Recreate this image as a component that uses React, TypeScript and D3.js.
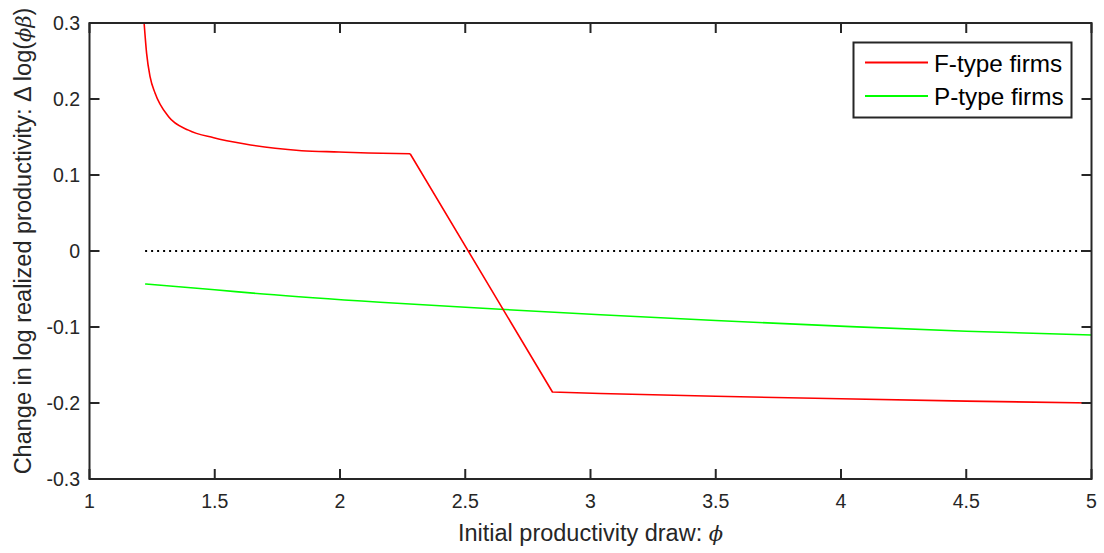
import React from 'react'
import * as d3 from 'd3'

// F-type firms (red): smooth part up to the kink, then straight pieces
const fPhi = [1.218, 1.228, 1.242, 1.262, 1.315, 1.395, 1.496, 1.621, 1.741, 1.847, 1.996, 2.113, 2.28, 2.848, 3.04, 3.5, 4.0, 4.5, 5.0]
const fChange = [0.300, 0.260, 0.229, 0.2075, 0.177, 0.159, 0.149, 0.1408, 0.1351, 0.132, 0.1303, 0.129, 0.128, -0.1855, -0.1875, -0.1912, -0.1945, -0.1975, -0.2]
const fKink = 12 // index where the smooth part ends

// P-type firms (green)
const pPhi = [1.222, 1.5, 1.694, 2.16, 2.64, 3.04, 3.5, 4.04, 4.5, 5.0]
const pChange = [-0.0434, -0.051, -0.0566, -0.0675, -0.0767, -0.0838, -0.0915, -0.0995, -0.1055, -0.1105]

const zeroLine = [1.222, 5.0]

const xTicks = [1, 1.5, 2, 2.5, 3, 3.5, 4, 4.5, 5]
const yTicks = [0.3, 0.2, 0.1, 0, -0.1, -0.2, -0.3]

const legendNames = ['F-type firms', 'P-type firms']
const legendColors = ['#ff0000', '#00ff00']

const W = 1104
const H = 553
const left = 89.5, right = 1091.5, top = 23, bottom = 479
const axisColor = '#262626'
const font = 'Liberation Sans, Arial, Helvetica, sans-serif'

export default function App() {
  const x = d3.scaleLinear().domain([1, 5]).range([left, right])
  const y = d3.scaleLinear().domain([-0.3, 0.3]).range([bottom, top])

  const smooth = d3.line<[number, number]>().x(d => x(d[0])).y(d => y(d[1])).curve(d3.curveMonotoneX)
  const straight = d3.line<[number, number]>().x(d => x(d[0])).y(d => y(d[1]))

  const fPts: [number, number][] = fPhi.map((v, i) => [v, fChange[i]])
  const fPath1 = smooth(fPts.slice(0, fKink + 1))
  const fPath2 = straight(fPts.slice(fKink))
  const pPath = smooth(pPhi.map((v, i) => [v, pChange[i]] as [number, number]))
  const zPath = straight(zeroLine.map(v => [v, 0] as [number, number]))

  const fmt = (v: number) => (v === 0 ? '0' : String(v))

  return (
    <svg width={W} height={H} style={{ position: 'absolute', left: 0, top: 0, background: '#fff' }}
      fontFamily={font}>
      <defs>
        <clipPath id="plot">
          <rect x={left} y={top} width={right - left} height={bottom - top} />
        </clipPath>
      </defs>
      <rect x={0} y={0} width={W} height={H} fill="#fff" />

      <g clipPath="url(#plot)" fill="none">
        <path d={zPath || ''} stroke="#000" strokeWidth={2} strokeDasharray="2 4" />
        <path d={pPath || ''} stroke="#00ff00" strokeWidth={1.6} />
        <path d={fPath1 || ''} stroke="#ff0000" strokeWidth={1.6} />
        <path d={fPath2 || ''} stroke="#ff0000" strokeWidth={1.6} strokeLinejoin="round" />
      </g>

      {/* ticks, bottom/top */}
      {xTicks.map(t => (
        <g key={'x' + t}>
          <line x1={x(t)} x2={x(t)} y1={bottom} y2={bottom - 10} stroke={axisColor} strokeWidth={2} />
          <line x1={x(t)} x2={x(t)} y1={top} y2={top + 10} stroke={axisColor} strokeWidth={2} />
          <text x={x(t)} y={bottom + 29} textAnchor="middle" fontSize={19.5} fill={axisColor}>{fmt(t)}</text>
        </g>
      ))}
      {yTicks.map(t => (
        <g key={'y' + t}>
          <line x1={left} x2={left + 10} y1={y(t)} y2={y(t)} stroke={axisColor} strokeWidth={2} />
          <line x1={right} x2={right - 10} y1={y(t)} y2={y(t)} stroke={axisColor} strokeWidth={2} />
          <text x={80} y={y(t) + 7} textAnchor="end" fontSize={19.5} fill={axisColor}>{fmt(t)}</text>
        </g>
      ))}

      <rect x={left} y={top} width={right - left} height={bottom - top} fill="none" stroke={axisColor} strokeWidth={2} />

      {/* legend */}
      <rect x={853.5} y={42.5} width={218} height={75} fill="#fff" stroke={axisColor} strokeWidth={2} />
      {legendNames.map((name, i) => (
        <g key={name}>
          <line x1={865} x2={928} y1={62.5 + i * 33.5} y2={62.5 + i * 33.5} stroke={legendColors[i]} strokeWidth={2} />
          <text x={934} y={71.5 + i * 33.5} fontSize={24.3} fill="#000">{name}</text>
        </g>
      ))}

      {/* axis labels */}
      <text x={(left + right) / 2} y={541} textAnchor="middle" fontSize={23.5} fill={axisColor}>
        Initial productivity draw: <tspan fontStyle="italic" fontFamily="DejaVu Serif, serif" fontSize={21}>ϕ</tspan>
      </text>
      <text transform={`translate(31, 241) rotate(-90)`} textAnchor="middle" fontSize={23.5} fill={axisColor}>
        Change in log realized productivity: Δ log(<tspan fontStyle="italic" fontFamily="DejaVu Serif, serif" fontSize={21}>ϕβ</tspan>)
      </text>
    </svg>
  )
}
